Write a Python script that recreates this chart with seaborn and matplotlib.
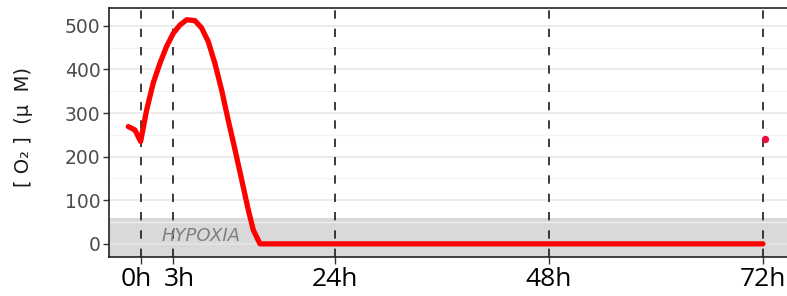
import seaborn as sns
import matplotlib.pyplot as plt
import matplotlib.transforms as mtransforms
import pandas as pd

# O2 trace (hours on the underlying time axis)
time_h = [0.82, 1.57, 2.21, 2.88, 3.62, 4.37, 5.12, 5.87, 6.62, 7.37, 8.30, 9.05, 9.79,
          10.54, 11.29, 12.03, 12.79, 13.54, 14.28, 14.84, 15.59, 24, 48, 72]
o2_um = [269, 261, 235, 307, 369, 414, 453, 483, 502, 514, 512, 495, 464,
         414, 353, 284, 216, 147, 78, 32, 0, 0, 0, 0]
last_time = [72.2]
last_o2 = [240]

tick_pos = [2.2, 5.87, 24, 48, 72]
tick_labels = ['0h', '3h', '24h', '48h', '72h']
hypoxia_top = 60

df = pd.DataFrame({'time': time_h, 'o2': o2_um})

sns.set_theme(style="whitegrid")
fig = plt.figure(figsize=(7.87, 2.96), dpi=100)
ax = fig.add_axes([0.1385, 0.132, 0.8615, 0.841])

ax.axhspan(-30, hypoxia_top, color='#d9d9d9', lw=0, zorder=0)
for x in tick_pos:
    ax.axvline(x, color='#1a1a1a', lw=1.2, linestyle=(0, (5, 6)), zorder=2)

sns.lineplot(data=df, x='time', y='o2', color='#ff0000', lw=3.8, ax=ax, zorder=3,
             solid_joinstyle='round', solid_capstyle='round')
ax.scatter(last_time, last_o2, color='#e8103a', s=28, marker='o', zorder=3, lw=0)

ax.text(9.0, 18, 'HYPOXIA', style='italic', color='#7f7f7f', fontsize=13,
        ha='center', va='center', zorder=2)

ax.set_xlim(-1.34, 74.7)
ax.set_ylim(-30, 541)
ax.set_yticks([0, 100, 200, 300, 400, 500])
ax.set_yticks([50, 150, 250, 350, 450], minor=True)
ax.set_xticks(tick_pos)
ax.set_xticklabels(tick_labels, fontsize=19, family='Open Sans', color='black')
ax.tick_params(axis='y', labelsize=13.5, labelcolor='#4d4d4d', length=4, width=1,
               color='#333333', left=True, pad=2)
ax.tick_params(axis='x', length=5, width=1, color='#333333', bottom=True, pad=2)

# the two crowded labels sit slightly apart in the original
xlabels = ax.get_xticklabels()
for lab, dx in zip(xlabels[:2], [-4, 6]):
    lab.set_transform(lab.get_transform() + mtransforms.ScaledTranslation(dx / 100, 0, fig.dpi_scale_trans))

ax.grid(axis='x', visible=False)
ax.grid(axis='y', which='major', color='#e6e6e6', lw=1.1)
ax.grid(axis='y', which='minor', color='#f2f2f2', lw=0.8)

for side in ['top', 'bottom', 'left']:
    ax.spines[side].set_visible(True)
    ax.spines[side].set_color('#222222')
    ax.spines[side].set_linewidth(1.2)
ax.spines['right'].set_visible(False)

ax.set_xlabel('')
ax.set_ylabel('[ O₂ ]  (μ  M)', fontsize=14, color='#1a1a1a')
ax.yaxis.set_label_coords(-0.112, 0.52)

plt.savefig('out.png', dpi=100)
